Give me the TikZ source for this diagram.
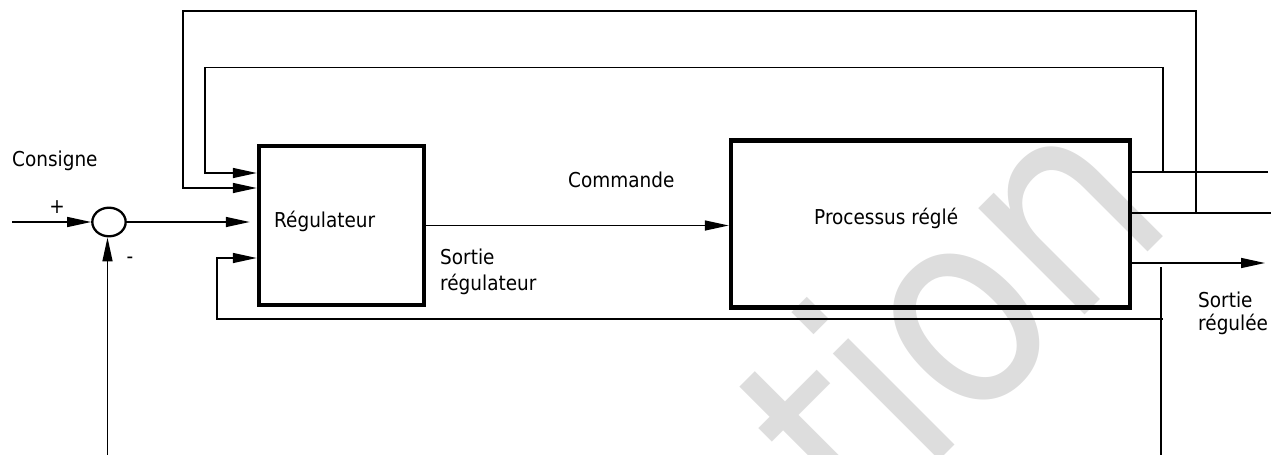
\documentclass[tikz,border=0pt]{standalone}
\usepackage{fontspec}
\setmainfont{DejaVu Sans}[FakeStretch=0.9]
\newfontfamily\wmfont{DejaVu Sans}[FakeStretch=0.88]
\usetikzlibrary{arrows.meta,shapes.geometric}
\definecolor{wmgray}{RGB}{221,221,221}
\begin{document}
\begin{tikzpicture}[x=1pt,y=-1pt,
  wire/.style={line width=1.5pt},
  arr/.style={wire,-{Triangle[length=24pt,width=10pt]}},
  block/.style={draw,line width=4.5pt,inner sep=0pt},
  lbl/.style={inner sep=0pt,font=\fontsize{20.5}{24}\selectfont}]
\useasboundingbox (0,0) rectangle (1274,455);

% background stamp
\begin{scope}
  \clip (0,0) rectangle (1274,455);
  \node[rotate=45,anchor=base west,inner sep=0pt,text=wmgray,
        font=\wmfont\fontsize{275}{275}\selectfont] (stamp) at (860.8,539.2)
        {t\kern-6.2pt i\kern-5pt o\kern-5pt n};
\end{scope}

% blocks
\node[block,minimum width=165pt,minimum height=159pt] (reg) at (341.5,225.5) {};
\node[block,minimum width=399pt,minimum height=167pt] (proc) at (930.5,224) {};
\node[draw,ellipse,line width=2.3pt,inner sep=0pt,minimum width=33.4pt,minimum height=28.6pt] (sum) at (109,222) {};

% texts
\node[lbl,anchor=base west] (consigne) at (12,166) {Consigne};
\node[lbl,anchor=center] (plus) at (57,207.5) {+};
\node[lbl,anchor=base] (minus) at (130,263.6) {-};
\node[lbl,anchor=base west] (regtxt) at (274,227) {Régulateur};
\node[lbl,anchor=base west] (cmd) at (568,187) {Commande};
\node[lbl,anchor=base west] (sreg1) at (440,264) {Sortie};
\node[lbl,anchor=base west] (sreg2) at (440,290) {régulateur};
\node[lbl,anchor=base west] (proctxt) at (814,224) {Processus réglé};
\node[lbl,anchor=base west] (sout1) at (1198,307) {Sortie};
\node[lbl,anchor=base west] (sout2) at (1198,330) {régulée};

% set point and comparator
\coordinate (in) at (12,222);
\coordinate (fb) at (107.5,455);
\draw[arr] (in) -- (sum.west);
\draw[arr] (fb) -- (fb |- sum.south);
\draw[arr,shorten >=7pt] (sum.east) -- (sum.east -| reg.west);

% control signal
\draw[arr] (reg.east) -- (reg.east -| proc.west);

% outer loop
\coordinate (ta) at (1271,213);
\coordinate (a1) at (1196,213);
\coordinate (a2) at (1196,11);
\coordinate (a3) at (183,11);
\coordinate (a4) at (183,188);
\draw[wire] (ta -| proc.east) -- (ta);
\draw[arr] (a1) -- (a2) -- (a3) -- (a4) -- (a4 -| reg.west);

% middle loop
\coordinate (tb) at (1268,172);
\coordinate (b1) at (1163,172);
\coordinate (b2) at (1163,67.5);
\coordinate (b3) at (205,67.5);
\coordinate (b4) at (205,173);
\draw[wire] (tb -| proc.east) -- (tb);
\draw[arr] (b1) -- (b2) -- (b3) -- (b4) -- (b4 -| reg.west);

% controlled output
\coordinate (out) at (1265,263);
\draw[arr] (out -| proc.east) -- (out);

% lower loop
\coordinate (c1) at (1161,267);
\coordinate (c2) at (1161,455);
\coordinate (c3) at (1163,319);
\coordinate (c4) at (217,319);
\coordinate (c5) at (217,258);
\draw[wire] (c1) -- (c2);
\draw[arr] (c3) -- (c4) -- (c5) -- (c5 -| reg.west);
\end{tikzpicture}
\end{document}
